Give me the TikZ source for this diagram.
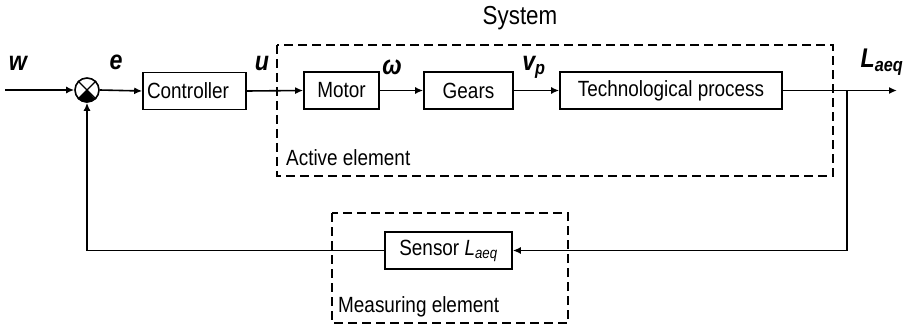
\documentclass[tikz,border=0pt]{standalone}
\usepackage{fontspec}
\setmainfont{Liberation Sans}[FakeStretch=0.86]
\usetikzlibrary{arrows.meta,calc}
\begin{document}
\begin{tikzpicture}[x=1pt,y=-1pt,
  every node/.style={font=\fontsize{22}{26}\selectfont},
  blk/.style={draw,line width=1.6pt,minimum height=37pt,inner sep=0pt},
  grp/.style={draw,line width=1.6pt,dash pattern=on 9pt off 5pt},
  sig/.style={line width=1.6pt},
  arr/.style={sig,-{Latex[length=8pt,width=7pt]}},
  var/.style={font=\fontsize{27}{30}\selectfont\bfseries\itshape}]
\useasboundingbox (0,0) rectangle (908,326);
% groups
\draw[grp] (277,45) rectangle (833,176);
\draw[grp] (332,213) rectangle (568,323);
\node[font=\fontsize{26}{30}\selectfont] (sys) at (520,18) {System};
\node[anchor=west,inner sep=0pt] (act) at (286,158) {Active element};
\node[anchor=west,inner sep=0pt] (meas) at (338,307) {Measuring element};
% summing junction
\node[circle,draw,line width=1.6pt,minimum size=24pt,inner sep=0pt] (sum) at (87,90) {};
\fill (sum.center) -- (sum.south west) arc[start angle=225,end angle=315,radius=12pt] -- cycle;
\draw[line width=1.2pt] (sum.north west) -- (sum.south east) (sum.north east) -- (sum.south west);
% blocks
\node[blk,minimum width=103pt,text width=95pt,align=left] (ctrl) at (194.5,91) {Controller};
\node[blk,minimum width=75pt] (motor) at (341.5,90.5) {Motor};
\node[blk,minimum width=89pt] (gears) at (468.5,90.5) {Gears};
\node[blk,minimum width=222pt] (tech) at (671,90.5) {Technological process};
\node[blk,minimum width=127pt] (sensor) at (448.5,250.5) {Sensor \textit{L\textsubscript{aeq}}};
% coordinates
\coordinate (in) at (5,90);
\coordinate (br) at (847,90.5);
\coordinate (out) at (897,90.5);
\coordinate (fbr) at (847,250.5);
\coordinate (fbl) at (87,250.5);
% signals
\draw[arr] (in) -- (sum.west);
\draw[arr] (sum.east) -- (ctrl.west);
\draw[arr] (ctrl.east) -- (motor.west);
\draw[arr] (motor.east) -- (gears.west);
\draw[arr] (gears.east) -- (tech.west);
\draw[arr] (tech.east) -- (out);
\draw[arr] (br) -- (fbr) -- (sensor.east);
\draw[arr] (sensor.west) -- (fbl) -- (sum.south);
% variable labels
\node[var] (lw) at (18,63) {w};
\node[var] (le) at (116,62) {e};
\node[var] (lu) at (262,63) {u};
\node[var] (lom) at (392,67) {ω};
\node[var] (lv) at (534,67) {v\textsubscript{p}};
\node[var] (ll) at (882,62) {L\textsubscript{aeq}};
\end{tikzpicture}
\end{document}
